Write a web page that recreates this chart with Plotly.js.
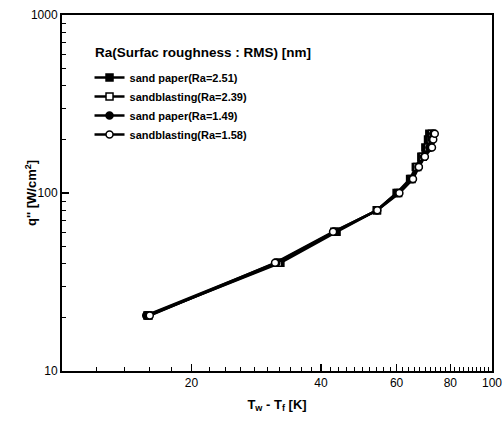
<!DOCTYPE html>
<html>
<head>
<meta charset="utf-8">
<script src="https://cdn.plot.ly/plotly-3.0.1.min.js"></script>
<style>html,body{margin:0;padding:0;background:#fff;}#chart{width:504px;height:422px;}</style>
</head>
<body>
<div id="chart"></div>
<script>
// Heat flux q'' [W/cm^2]
const heatFlux = [20.5, 40.5, 60.5, 80, 100, 120, 140, 160, 180, 200, 215];
// Wall superheat Tw - Tf [K] for each surface
const sandPaper251   = [15.8, 32.2, 43.5, 54.0, 60.0, 64.5, 66.5, 68.5, 70.0, 71.0, 71.5];
const sandblast239   = [15.9, 31.8, 43.0, 54.0, 60.5, 65.0, 67.0, 69.0, 71.0, 72.0, 72.5];
const sandPaper149   = [15.7, 31.5, 43.0, 54.0, 60.2, 65.0, 67.5, 69.5, 71.5, 72.5, 73.0];
const sandblast158   = [16.0, 31.3, 42.7, 54.1, 60.9, 65.5, 67.6, 69.8, 72.5, 73.0, 73.6];
const seriesNames = ["sand paper(Ra=2.51)", "sandblasting(Ra=2.39)", "sand paper(Ra=1.49)", "sandblasting(Ra=1.58)"];
const legendHeading = "Ra(Surfac roughness : RMS) [nm]";
const xTitle = "T<sub>w</sub> - T<sub>f</sub> [K]";
const yTitle = "q'' [W/cm<sup>2</sup>]";
const xTickVals = [20, 40, 60, 80, 100];
const yTickVals = [10, 100, 1000];

const xMinor = [];
for (let v = 12; v < 100; v += 2) if (!xTickVals.includes(v)) xMinor.push(v);
const yMinor = [];
[10, 100].forEach(d => { for (let k = 2; k <= 9; k++) yMinor.push(k * d); });

const styles = [
  {symbol: "square", fill: "#000"},
  {symbol: "square", fill: "#fff"},
  {symbol: "circle", fill: "#000"},
  {symbol: "circle", fill: "#fff"}
];
const xs = [sandPaper251, sandblast239, sandPaper149, sandblast158];

const traces = xs.map((x, i) => ({
  x: x, y: heatFlux, name: seriesNames[i], type: "scatter", mode: "lines+markers",
  line: {color: "#000", width: 2.5},
  marker: {symbol: styles[i].symbol, size: 7, color: styles[i].fill,
           line: {color: "#000", width: 1.5}}
}));

const font = "Liberation Sans, Arial, sans-serif";
const layout = {
  width: 504, height: 422,
  margin: {l: 62, r: 12, t: 15, b: 51},
  paper_bgcolor: "#fff", plot_bgcolor: "#fff",
  font: {family: font, color: "#000", size: 12},
  showlegend: true,
  legend: {x: 0.064, y: 0.865, xanchor: "left", yanchor: "top", bgcolor: "rgba(0,0,0,0)",
           font: {family: font, size: 11, weight: "bold", color: "#000"}, tracegroupgap: 0},
  xaxis: {
    type: "log", range: [1, 2], showgrid: false, zeroline: false,
    showline: true, linecolor: "#000", linewidth: 2, mirror: true,
    ticks: "inside", ticklen: 7, tickwidth: 1.5, tickcolor: "#000",
    tickmode: "array", tickvals: xTickVals, ticktext: xTickVals.map(String),
    tickfont: {family: font, size: 12, color: "#000"},
    minor: {tickmode: "array", tickvals: xMinor, ticks: "inside", ticklen: 4, tickwidth: 1, tickcolor: "#000", showgrid: false},
    title: {text: xTitle, font: {family: font, size: 13, weight: "bold"}, standoff: 10}
  },
  yaxis: {
    type: "log", range: [1, 3], showgrid: false, zeroline: false,
    showline: true, linecolor: "#000", linewidth: 2, mirror: true,
    ticks: "inside", ticklen: 7, tickwidth: 1.5, tickcolor: "#000",
    tickmode: "array", tickvals: yTickVals, ticktext: yTickVals.map(String),
    tickfont: {family: font, size: 12, color: "#000"},
    minor: {tickmode: "array", tickvals: yMinor, ticks: "inside", ticklen: 4, tickwidth: 1, tickcolor: "#000", showgrid: false},
    title: {text: ""}
  },
  annotations: [
    {xref: "paper", yref: "paper", x: 0.072, y: 0.896, xanchor: "left", yanchor: "middle",
     text: legendHeading, showarrow: false, font: {family: font, size: 13.5, weight: "bold", color: "#000"}},
    {xref: "paper", yref: "paper", x: -0.072, y: 0.5, xanchor: "center", yanchor: "middle",
     textangle: -90, text: yTitle, showarrow: false, font: {family: font, size: 13, weight: "bold", color: "#000"}}
  ]
};

Plotly.newPlot("chart", traces, layout, {displayModeBar: false, staticPlot: true});
</script>
</body>
</html>
